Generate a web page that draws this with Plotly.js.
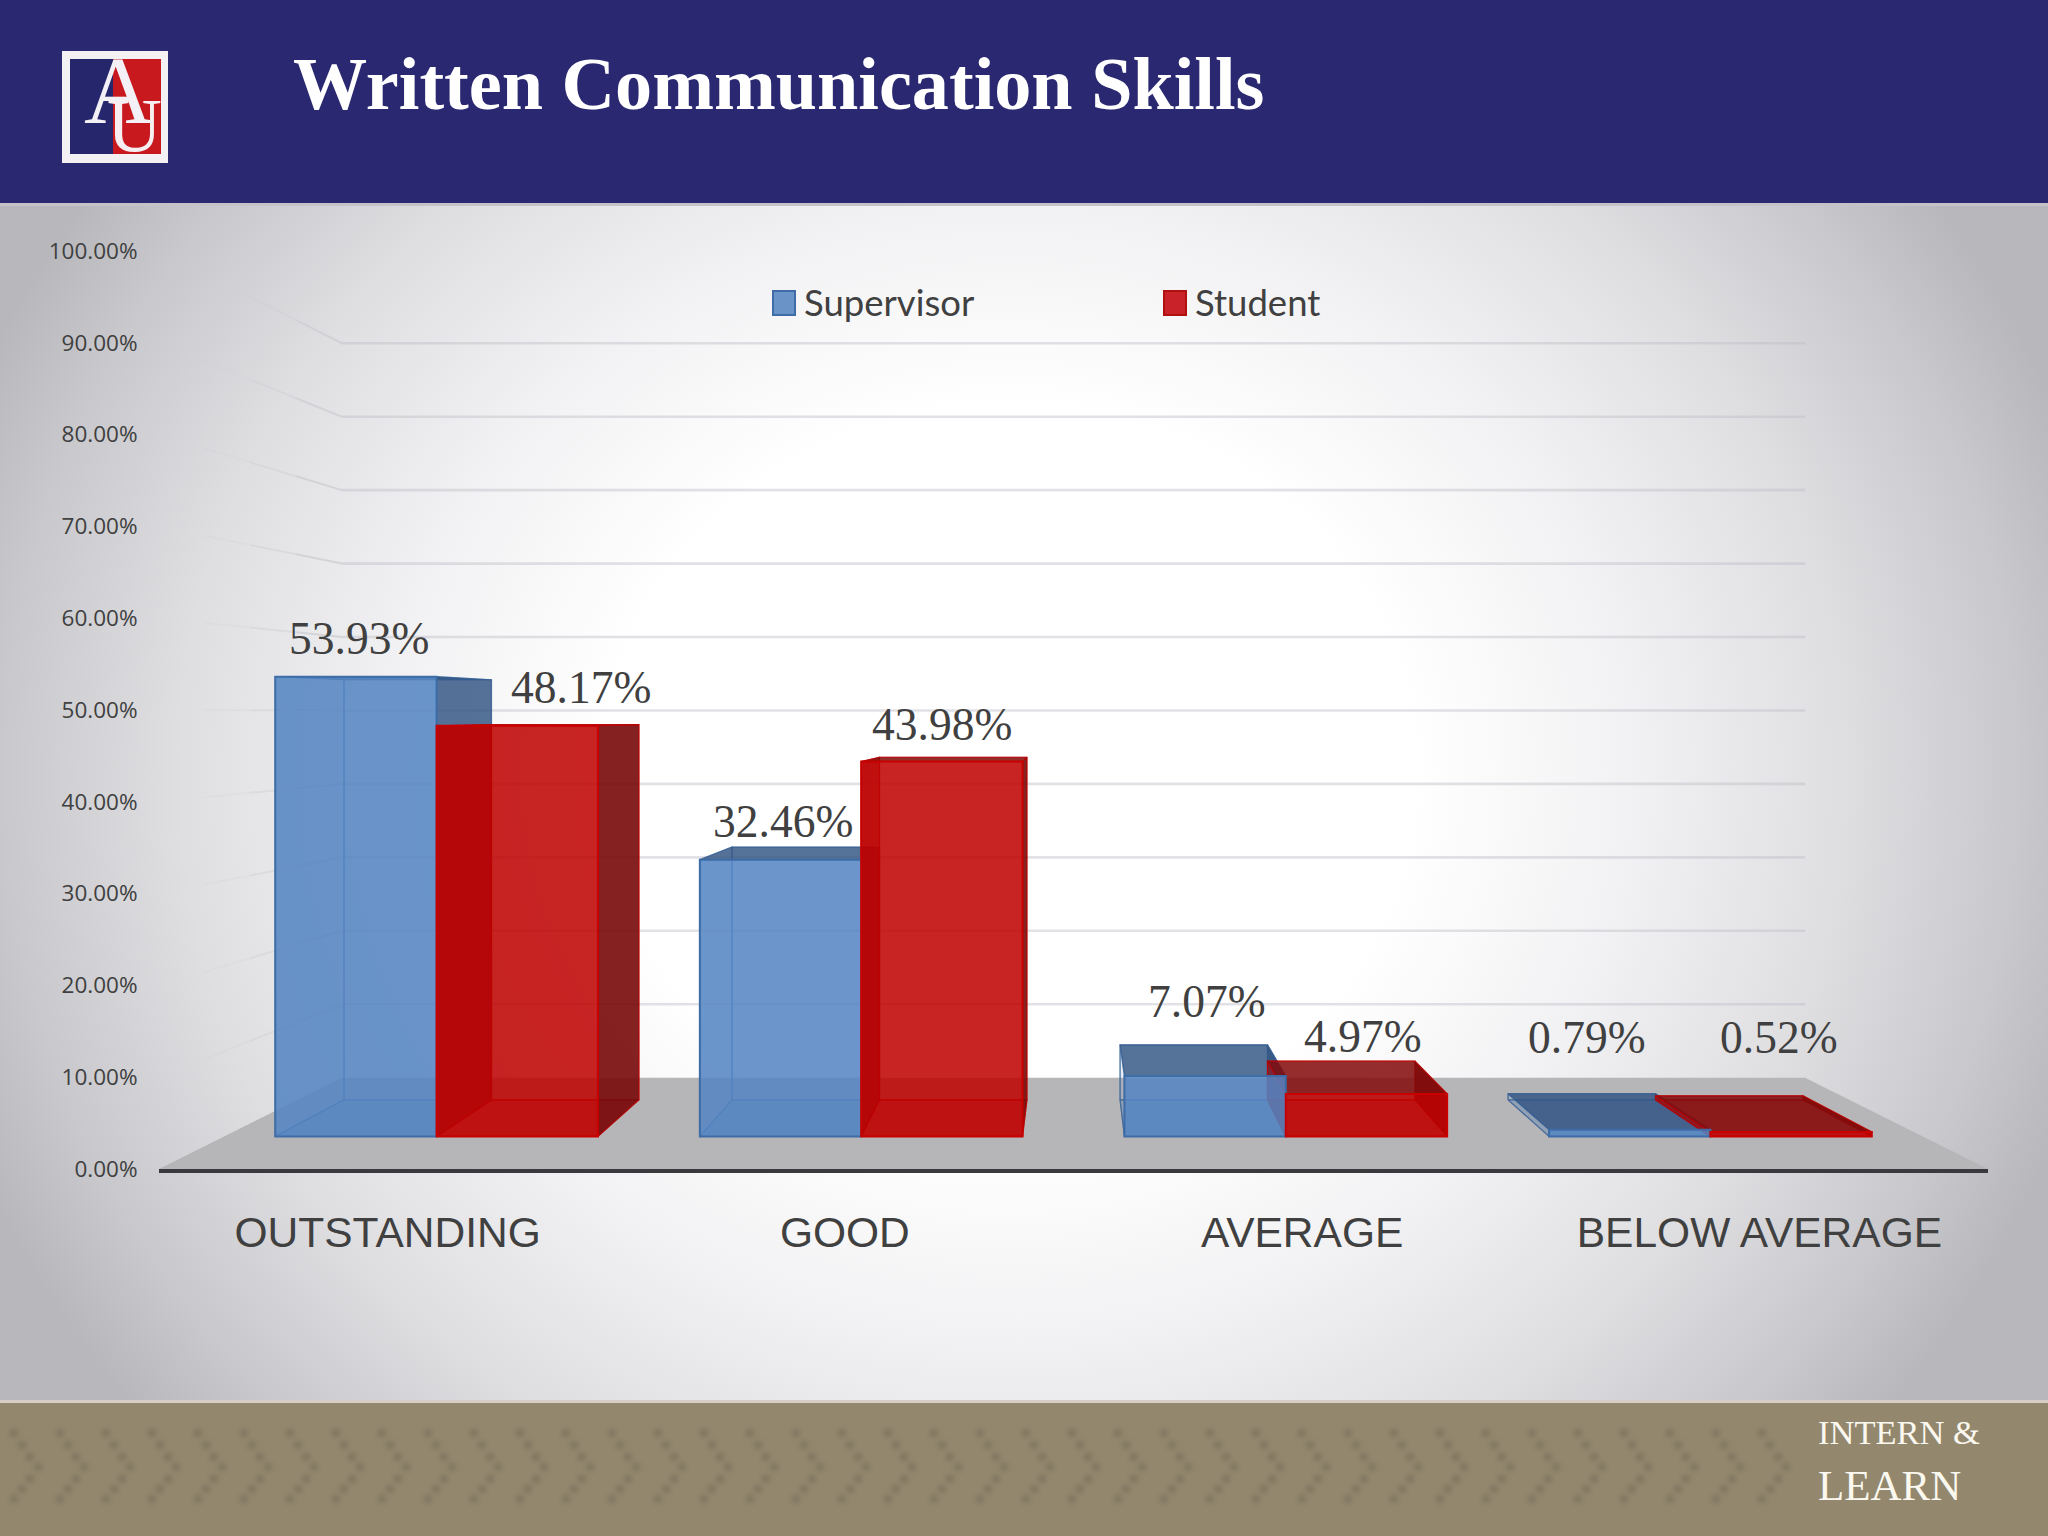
<!DOCTYPE html>
<html>
<head>
<meta charset="utf-8">
<script src="https://cdn.plot.ly/plotly-3.0.1.min.js"></script>
<style>
html,body{margin:0;padding:0;width:2048px;height:1536px;overflow:hidden;}
#bg{position:absolute;left:0;top:204px;width:2048px;height:1199px;
 background:radial-gradient(ellipse 1120px 1020px at 1010px 570px,#ffffff 0%,#ffffff 36%,#f1f1f3 56%,#dfdfe2 74%,#c9c9cd 90%,#b8b8bc 100%);}
#head{position:absolute;left:0;top:0;width:2048px;height:206px;background:#2a2870;border-bottom:3px solid #c4c4c8;box-sizing:border-box;}
#foot{position:absolute;left:0;top:1400px;width:2048px;height:136px;background:#93886e;border-top:3px solid #d8cdc6;box-sizing:border-box;}
#chev{position:absolute;left:0;top:1425px;width:1796px;height:80px;filter:blur(2px);
 background-repeat:repeat-x;background-size:46px 80px;}
#plot{position:absolute;left:0;top:0;width:2048px;height:1536px;}
</style>
</head>
<body>
<div id="bg"></div><div id="head"></div><div id="foot"></div><div id="chev"></div>
<div id="plot"></div>
<script>
// ---- data ----
const categories = ["OUTSTANDING", "GOOD", "AVERAGE", "BELOW AVERAGE"];
const supervisorValues = [53.93, 32.46, 7.07, 0.79];
const studentValues = [48.17, 43.98, 4.97, 0.52];
const seriesNames = ["Supervisor", "Student"];
const chartTitle = "Written Communication Skills";

// ---- style / layout ----
const W = 2048, H = 1536;
const M = {l:159, r:60, t:251, b:367};
const PW = W - M.l - M.r, PH = H - M.t - M.b;
const CX = 1.5, EYE = 49.75;        // vanishing point in front-plane axis units
const S_BACK = 0.8, S_FRONT_BAR = 0.9286, S_BACK_BAR = 0.8486;
const BAR_W = 0.38;
const labelShift = {
  blue: [[3,38],[2,38],[2,75],[-43,92]],
  red:  [[64,38],[0,37],[-3,58],[-12,94]]
};
const BLUE = {front:'rgba(84,133,195,0.86)', back:'rgba(84,133,195,0.06)', left:'rgba(84,133,195,0.08)',
  right:'rgba(50,84,130,0.82)', top:'rgba(50,84,130,0.82)', floor:'rgba(60,110,170,0.25)', line:'#3d6ca6', edge:'rgba(50,95,150,0.6)'};
const RED = {front:'rgba(190,0,0,0.85)', back:'rgba(190,0,0,0.05)', left:'rgba(160,10,10,0.62)',
  right:'rgba(120,10,10,0.9)', top:'rgba(130,10,10,0.85)', floor:'rgba(190,0,0,0.35)', line:'#c80000', edge:'rgba(190,0,0,0.7)'};

// perspective helper: axis coordinates of a point on the plane with scale s
const P = (d, v, s) => [CX + (d - CX) * s, EYE + (v - EYE) * s];
const planeRangeX = s => [CX - (CX + 0.5) / s, CX + (3.5 - CX) / s];
const planeRangeY = s => [EYE - EYE / s, EYE + (100 - EYE) / s];
const px = x => (x - M.l) / PW;
const py = y => 1 - (y - M.t) / PH;

function faces(values, x0off, x1off) {
  const out = {back:[[],[]], left:[[],[]], right:[[],[]], top:[[],[]], floor:[[],[]]};
  const add = (k, pts) => {
    pts.concat([pts[0]]).forEach(p => {out[k][0].push(p[0]); out[k][1].push(p[1]);});
    out[k][0].push(null); out[k][1].push(null);
  };
  values.forEach((v, i) => {
    const a = i + x0off, b = i + x1off, f = S_FRONT_BAR, r = S_BACK_BAR;
    add('back',  [P(a,0,r), P(b,0,r), P(b,v,r), P(a,v,r)]);
    add('floor', [P(a,0,f), P(b,0,f), P(b,0,r), P(a,0,r)]);
    add('left',  [P(a,0,f), P(a,0,r), P(a,v,r), P(a,v,f)]);
    add('right', [P(b,0,f), P(b,0,r), P(b,v,r), P(b,v,f)]);
    add('top',   [P(a,v,f), P(b,v,f), P(b,v,r), P(a,v,r)]);
  });
  return out;
}
function faceTraces(values, a, b, c) {
  const f = faces(values, a, b);
  return ['back','floor','left','right','top'].map(k => ({
    type:'scatter', mode:'lines', x:f[k][0], y:f[k][1], fill:'toself', fillcolor:c[k],
    line:{color:c.edge, width:1.2}, hoverinfo:'skip', showlegend:false, connectgaps:false, xaxis:'x', yaxis:'y'
  }));
}

const data = [
  ...faceTraces(supervisorValues, -BAR_W, 0, BLUE),
  ...faceTraces(studentValues, 0, BAR_W, RED),
  {type:'bar', name:seriesNames[0], x:categories, y:supervisorValues, xaxis:'x2', yaxis:'y2',
   marker:{color:BLUE.front, line:{color:BLUE.line, width:2}}, showlegend:false},
  {type:'bar', name:seriesNames[1], x:categories, y:studentValues, xaxis:'x2', yaxis:'y2',
   marker:{color:RED.front, line:{color:RED.line, width:2}}, showlegend:false}
];

// back wall, side wall and floor
const shapes = [];
for (let v = 10; v <= 100; v += 10) {
  const a = P(-0.5, v, S_BACK), b = P(3.5, v, S_BACK);
  shapes.push({type:'line', layer:'below', xref:'x', yref:'y', x0:a[0], y0:a[1], x1:b[0], y1:b[1],
    line:{color:'rgba(185,185,195,0.42)', width:2.6}});
  [[0.8,0.85,0.8],[0.85,0.9,0.45],[0.9,0.95,0.2]].forEach(seg => {
    const p = P(-0.5, v, seg[0]), q = P(-0.5, v, seg[1]);
    shapes.push({type:'line', layer:'below', xref:'x', yref:'y', x0:p[0], y0:p[1], x1:q[0], y1:q[1],
      opacity:seg[2], line:{color:'#cfcfd4', width:2}});
  });
}
const fl = [P(-0.5,0,1), P(3.5,0,1), P(3.5,0,S_BACK), P(-0.5,0,S_BACK)];
shapes.push({type:'path', layer:'below', xref:'x', yref:'y',
  path:'M'+fl.map(p => p[0]+','+p[1]).join('L')+'Z', fillcolor:'#b6b5b7', line:{width:0}});

// logo and legend swatches
const rect = (x0,y0,x1,y1,fill,line,lw) => ({type:'rect', layer:'above', xref:'paper', yref:'paper',
  x0:px(x0), x1:px(x1), y0:py(y0), y1:py(y1), fillcolor:fill, line:{color:line||fill, width:lw||0}});
shapes.push(rect(62,51,168,163,'#f4f1f4'));
shapes.push(rect(70,59,113,154,'#26266c'));
shapes.push(rect(113,59,161,154,'#c8191f'));
shapes.push(rect(773,291,795,315,'#6a94c8','#3f6ca8',2));
shapes.push(rect(1164,291,1186,315,'#c92228','#b01010',2));

const txt = (text,x,y,size,family,color,anchor,extra) => Object.assign({
  text, xref:'paper', yref:'paper', x:px(x), y:py(y), xanchor:anchor||'left', yanchor:'middle',
  showarrow:false, font:{size, family, color}}, extra||{});

const annotations = [
  txt('<b>'+chartTitle+'</b>', 291, 84, 74.2, 'Liberation Serif', '#ffffff', 'left'),
  txt('U', 134, 125, 76, 'Liberation Serif', '#f6eef0', 'center'),
  txt('A', 118, 90, 96, 'Liberation Serif', '#f4f1f6', 'center'),
  txt(seriesNames[0], 802, 302, 36.5, 'Lato', '#404040', 'left'),
  txt(seriesNames[1], 1193, 302, 36.5, 'Lato', '#404040', 'left'),
  txt('INTERN &amp;', 1816, 1432, 34.5, 'Liberation Serif', '#fbf8f0', 'left'),
  txt('LEARN', 1816, 1485, 43, 'Liberation Serif', '#fbf8f0', 'left')
];
const addLabels = (values, off, shift) => values.forEach((v, i) => annotations.push({
  text:v.toFixed(2)+'%', xref:'x2', yref:'y2', x:i+off, y:v, xanchor:'center', yanchor:'middle',
  xshift:shift[i][0], yshift:shift[i][1], showarrow:false,
  font:{size:45.5, family:'Liberation Serif', color:'#404040'}}));
addLabels(supervisorValues, -BAR_W/2, labelShift.blue);
addLabels(studentValues, BAR_W/2, labelShift.red);

const layout = {
  width:W, height:H, autosize:false, margin:{l:M.l, r:M.r, t:M.t, b:M.b, pad:0},
  paper_bgcolor:'rgba(0,0,0,0)', plot_bgcolor:'rgba(0,0,0,0)',
  showlegend:false, barmode:'group', bargap:0.24, bargroupgap:0, hovermode:false,
  xaxis:{type:'linear', range:[-0.5,3.5], tickmode:'array', tickvals:[0,1,2,3], ticktext:categories,
    showgrid:false, zeroline:false, showline:true, linecolor:'#3a3a3e', linewidth:3.5,
    ticks:'outside', ticklen:23, tickcolor:'rgba(0,0,0,0)',
    tickfont:{family:'Liberation Sans', size:42.5, color:'#404040'}},
  yaxis:{range:[0,100], dtick:10, tickformat:'.2f', ticksuffix:'%', showgrid:false, zeroline:false,
    ticks:'outside', ticklen:16, tickcolor:'rgba(0,0,0,0)',
    tickfont:{family:'Open Sans', size:22.5, color:'#404040'}},
  xaxis2:{type:'category', categoryorder:'array', categoryarray:categories, range:planeRangeX(S_FRONT_BAR),
    overlaying:'x', anchor:'y2', visible:false},
  yaxis2:{range:planeRangeY(S_FRONT_BAR), overlaying:'y', anchor:'x2', visible:false},
  shapes, annotations
};

// chevron texture in the footer
(function(){
  const pts = [[14,8],[22,20],[30,32],[38,42],[30,54],[22,64],[14,74]];
  const svg = "<svg xmlns='http://www.w3.org/2000/svg' width='46' height='80'>" +
    pts.map(p => "<circle cx='"+p[0]+"' cy='"+p[1]+"' r='4.5' fill='rgba(105,95,80,0.38)'/>").join('') + "</svg>";
  document.getElementById('chev').style.backgroundImage = 'url("data:image/svg+xml,' + encodeURIComponent(svg) + '")';
})();

Plotly.newPlot('plot', data, layout, {displayModeBar:false, staticPlot:true});
</script>
</body>
</html>
